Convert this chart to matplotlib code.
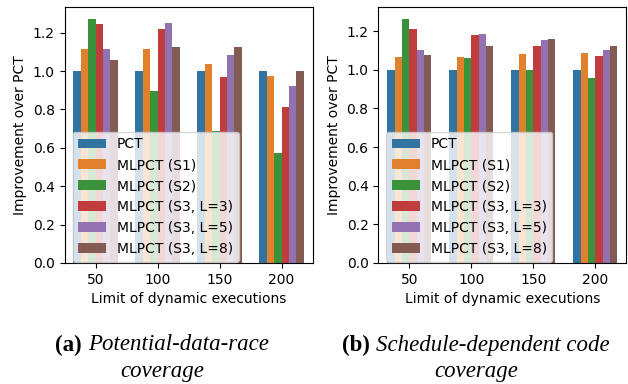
import colorsys
import matplotlib
matplotlib.use("Agg")
import matplotlib.pyplot as plt
import matplotlib.colors as mcolors
import numpy as np

limits = ["50", "100", "150", "200"]
series = ["PCT", "MLPCT (S1)", "MLPCT (S2)", "MLPCT (S3, L=3)", "MLPCT (S3, L=5)", "MLPCT (S3, L=8)"]

race_pct = [1.0, 1.0, 1.0, 1.0]
race_s1 = [1.117, 1.117, 1.035, 0.972]
race_s2 = [1.270, 0.894, 0.685, 0.575]
race_l3 = [1.244, 1.218, 0.967, 0.811]
race_l5 = [1.117, 1.249, 1.082, 0.920]
race_l8 = [1.056, 1.124, 1.124, 0.998]

code_pct = [1.0, 1.0, 1.0, 1.0]
code_s1 = [1.066, 1.066, 1.081, 1.086]
code_s2 = [1.262, 1.060, 1.000, 0.957]
code_l3 = [1.210, 1.181, 1.122, 1.071]
code_l5 = [1.102, 1.186, 1.153, 1.102]
code_l8 = [1.076, 1.122, 1.159, 1.122]

race = [race_pct, race_s1, race_s2, race_l3, race_l5, race_l8]
code = [code_pct, code_s1, code_s2, code_l3, code_l5, code_l8]


def desat(c, prop=0.75):
    r, g, b = mcolors.to_rgb(c)
    h, l, s = colorsys.rgb_to_hls(r, g, b)
    return colorsys.hls_to_rgb(h, l, s * prop)


colors = [desat(c) for c in plt.get_cmap("tab10").colors[:6]]

plt.rcParams["font.family"] = "DejaVu Sans"
plt.rcParams["font.size"] = 10

W, H = 628, 384
fig = plt.figure(figsize=(W / 100, H / 100), dpi=100)


def draw(ax, data):
    n = len(data)
    total = 0.715
    bw = total / n
    x = np.arange(len(limits))
    for i, (vals, lab, col) in enumerate(zip(data, series, colors)):
        ax.bar(x - total / 2 + bw * (i + 0.5), vals, width=bw, color=col, label=lab)
    ax.set_xticks(x)
    ax.set_xticklabels(limits)
    ax.set_xlim(-0.5, len(limits) - 0.5)
    ax.set_ylim(0, max(max(v) for v in data) * 1.05)
    ax.set_yticks([0.0, 0.2, 0.4, 0.6, 0.8, 1.0, 1.2])
    ax.set_xlabel("Limit of dynamic executions")
    ax.set_ylabel("Improvement over PCT")
    ax.legend(loc="lower left", bbox_to_anchor=(8 / 248, 1.5 / 256), borderaxespad=0)


ax1 = fig.add_axes([64.5 / W, (H - 263) / H, 248 / W, 256 / H])
ax2 = fig.add_axes([378.3 / W, (H - 263) / H, 248 / W, 256 / H])
draw(ax1, race)
draw(ax2, code)

renderer = fig.canvas.get_renderer()
cap_size = 16.5


def caption(cx, label, body1, body2, y1, y2):
    t1 = fig.text(0, 0, label + " ", fontsize=cap_size, family="Liberation Serif", weight="bold")
    t2 = fig.text(0, 0, body1, fontsize=cap_size, family="Liberation Serif", style="italic")
    w1 = t1.get_window_extent(renderer).width
    w2 = t2.get_window_extent(renderer).width
    left = cx - (w1 + w2) / 2
    t1.set_position((left / W, 1 - y1 / H))
    t1.set_va("center")
    t2.set_position(((left + w1) / W, 1 - y1 / H))
    t2.set_va("center")
    fig.text(cx / W, 1 - y2 / H, body2, fontsize=cap_size, family="Liberation Serif",
             style="italic", ha="center", va="center")


caption(162, "(a)", "Potential-data-race", "coverage", 345, 372)
caption(476, "(b)", "Schedule-dependent code", "coverage", 345, 372)

fig.savefig("out.png", dpi=100)
